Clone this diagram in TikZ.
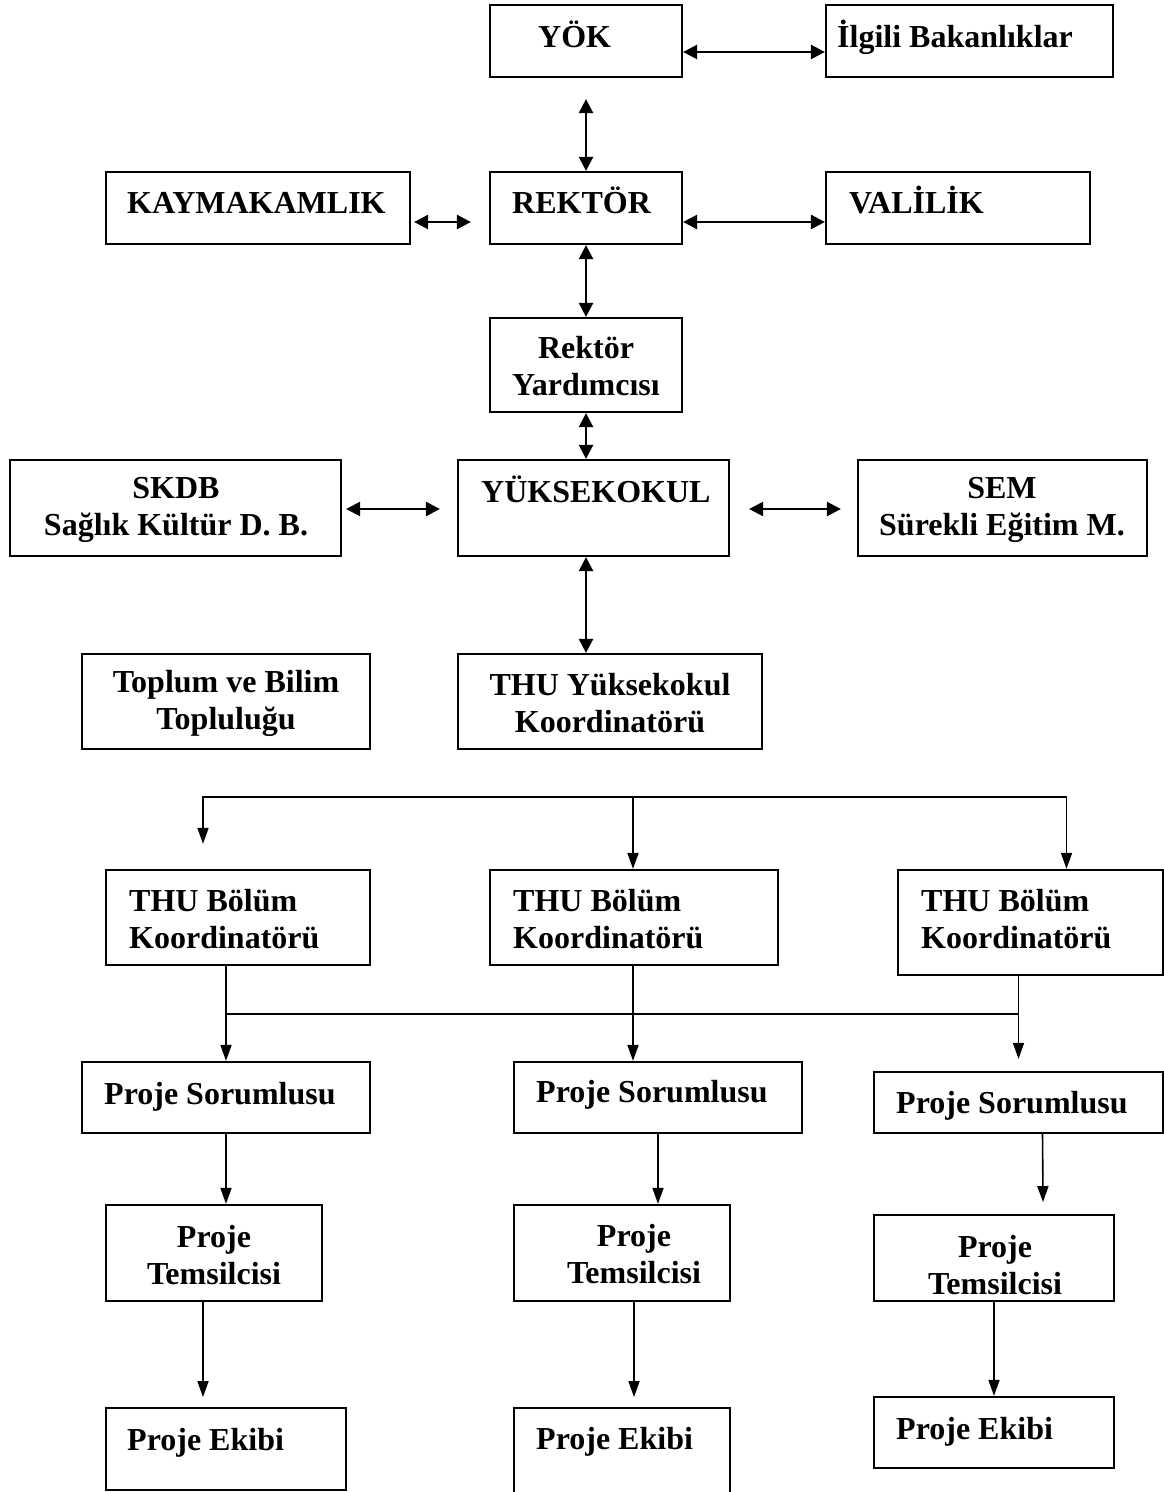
\documentclass[tikz,border=0pt]{standalone}
\usepackage{fontspec}
\setmainfont{Liberation Serif}
\usetikzlibrary{arrows.meta, calc, fit}

\begin{document}
\begin{tikzpicture}[%
        x = 0.5pt, y = -0.5pt,
        line width = 1.2pt,
        > = {Triangle[length = 7pt, width = 7pt]},
        box/.style = {draw, line width = 1.1pt, inner sep = 0pt},
        lbl/.style = {inner sep = 0pt, align = center,
            font = \bfseries\fontsize{16}{18.5}\selectfont},
        down/.style = {line width = 0.8pt, -{Triangle[length = 8pt, width = 5.5pt]}}
    ]

        \useasboundingbox (0, 0) rectangle (1163, 1492);

        % Top: YOK, the rector and the offices beside them.
        \node[box, fit = {(490, 5) (682, 77)}] (yok) {};
        \node[box, fit = {(826, 5) (1113, 77)}] (ilgili) {};
        \node[box, fit = {(106, 172) (410, 244)}] (kaym) {};
        \node[box, fit = {(490, 172) (682, 244)}] (rektor) {};
        \node[box, fit = {(826, 172) (1090, 244)}] (valilik) {};
        \node[box, fit = {(490, 318) (682, 412)}] (ryard) {};

        \node[lbl, anchor = base west] (yokt) at (537, 48) {YÖK};
        \node[lbl, anchor = base west] (ilgilit) at (836, 48) {İlgili Bakanlıklar};
        \node[lbl, anchor = base west] (kaymt) at (126, 214) {KAYMAKAMLIK};
        \node[lbl, anchor = base west] (rektort) at (511, 214) {REKTÖR};
        \node[lbl, anchor = base west] (valilikt) at (848, 214) {VALİLİK};
        \node[lbl] (ryardt) at (586, 366) {Rektör\\Yardımcısı};

        % Middle: the school and its partners.
        \node[box, fit = {(10, 460) (341, 556)}] (skdb) {};
        \node[box, fit = {(458, 460) (729, 556)}] (yuksek) {};
        \node[box, fit = {(858, 460) (1147, 556)}] (sem) {};
        \node[box, fit = {(82, 654) (370, 749)}] (toplum) {};
        \node[box, fit = {(458, 654) (762, 749)}] (thuy) {};

        \node[lbl] (skdbt) at (176, 510) {SKDB\\Sağlık Kültür D. B.};
        \node[lbl, anchor = base west] (yuksekt) at (480, 502) {YÜKSEKOKUL};
        \node[lbl] (semt) at (1002, 510) {SEM\\Sürekli Eğitim M.};
        \node[lbl] (toplumt) at (226, 703) {Toplum ve Bilim\\Topluluğu};
        \node[lbl] (thuyt) at (610, 703) {THU Yüksekokul\\Koordinatörü};

        % Double arrows in the upper part.
        \draw[<->] ($(yok.east) + (0, 11)$) -- ($(ilgili.west) + (0, 11)$);
        \draw[<->] ($(yok.south) + (0, 21)$) -- (rektor.north);
        \draw[<->] ($(kaym.east) + (3, 14)$) -- ($(rektor.west) + (-18, 14)$);
        \draw[<->] ($(rektor.east) + (0, 14)$) -- ($(valilik.west) + (0, 14)$);
        \draw[<->] (rektor.south) -- (ryard.north);
        \draw[<->] (ryard.south) -- (ryard.south |- yuksek.north);
        \draw[<->] ($(skdb.east) + (4, 1)$) -- ($(yuksek.west) + (-17, 1)$);
        \draw[<->] ($(yuksek.east) + (19, 1)$) -- ($(sem.west) + (-16, 1)$);
        \draw[<->] (ryard.south |- yuksek.south) -- (ryard.south |- thuy.north);

        % Department coordinators.
        \node[box, fit = {(106, 870) (370, 965)}] (bolum1) {};
        \node[box, fit = {(490, 870) (778, 965)}] (bolum2) {};
        \node[box, fit = {(898, 870) (1163, 975)}] (bolum3) {};

        \node[lbl, align = left, anchor = west] (bolum1t) at (128, 919) {THU Bölüm\\Koordinatörü};
        \node[lbl, align = left, anchor = west] (bolum2t) at (512, 919) {THU Bölüm\\Koordinatörü};
        \node[lbl, align = left, anchor = west] (bolum3t) at (920, 919) {THU Bölüm\\Koordinatörü};

        \coordinate (split) at (633, 797);
        \draw[down] (split) -| ($(bolum1.north) + (-35, -25)$);
        \draw[down] (split) -- (split |- bolum2.north);
        \draw[down] (split) -| ($(bolum3.north) + (36, 0)$);

        % Project leads, representatives and teams.
        \node[box, fit = {(82, 1062) (370, 1133)}] (sor1) {};
        \node[box, fit = {(514, 1062) (802, 1133)}] (sor2) {};
        \node[box, fit = {(874, 1072) (1163, 1133)}] (sor3) {};
        \node[box, fit = {(106, 1205) (322, 1301)}] (tem1) {};
        \node[box, fit = {(514, 1205) (730, 1301)}] (tem2) {};
        \node[box, fit = {(874, 1215) (1114, 1301)}] (tem3) {};
        \node[box, fit = {(106, 1408) (346, 1490)}] (ekip1) {};
        \node[box, fit = {(514, 1408) (730, 1496)}] (ekip2) {};
        \node[box, fit = {(874, 1397) (1114, 1468)}] (ekip3) {};

        \node[lbl, anchor = base west] (sor1t) at (103, 1104) {Proje Sorumlusu};
        \node[lbl, anchor = base west] (sor2t) at (535, 1102) {Proje Sorumlusu};
        \node[lbl, anchor = base west] (sor3t) at (895, 1113) {Proje Sorumlusu};
        \node[lbl] (tem1t) at (214, 1255) {Proje\\Temsilcisi};
        \node[lbl] (tem2t) at (634, 1254) {Proje\\Temsilcisi};
        \node[lbl] (tem3t) at (995, 1265) {Proje\\Temsilcisi};
        \node[lbl, anchor = base west] (ekip1t) at (126, 1450) {Proje Ekibi};
        \node[lbl, anchor = base west] (ekip2t) at (535, 1449) {Proje Ekibi};
        \node[lbl, anchor = base west] (ekip3t) at (895, 1439) {Proje Ekibi};

        \coordinate (bus) at (0, 1014);
        \draw[line width = 0.8pt] (sor1.north |- bus) -- (sor3.north |- bus);
        \draw[down] (bolum1.south -| sor1.north) -- (sor1.north);
        \draw[down] (split |- bolum2.south) -- (split |- sor2.north);
        \draw[down] (bolum3.south -| sor3.north) -- ($(sor3.north) + (0, -12)$);

        \draw[down] (sor1.south) -- (sor1.south |- tem1.north);
        \draw[down] (sor2.south) -- (sor2.south |- tem2.north);
        \draw[down] ($(sor3.south) + (24, 0)$) -- ($(sor3.south -| tem3.north) + (49, 68)$);

        \draw[down] ($(tem1.south) + (-11, 0)$) -- ($(tem1.south) + (-11, 95)$);
        \draw[down] ($(tem2.south) + (12, 0)$) -- ($(tem2.south) + (12, 95)$);
        \draw[down] (tem3.south) -- (tem3.south |- ekip3.north);
    \end{tikzpicture}
\end{document}
